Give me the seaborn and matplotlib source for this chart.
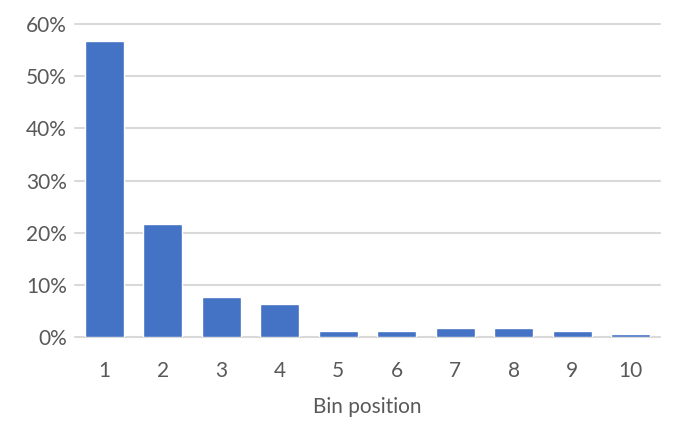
import matplotlib
matplotlib.use("Agg")
import matplotlib.pyplot as plt
import seaborn as sns
import pandas as pd
from matplotlib.ticker import FuncFormatter

categories = ["1", "2", "3", "4", "5", "6", "7", "8", "9", "10"]
values = [56.7, 21.6, 7.7, 6.3, 1.1, 1.1, 1.7, 1.7, 1.1, 0.5]
yticks = [0, 10, 20, 30, 40, 50, 60]
xlabel = "Bin position"

df = pd.DataFrame({"bin": categories, "pct": values})

sns.set_theme(style="white")
plt.rcParams["font.family"] = ["Lato", "DejaVu Sans"]

fig = plt.figure(figsize=(6.83, 4.40), dpi=100)
ax = fig.add_axes([0.1098, 0.234, 0.8565, 0.711])

sns.barplot(data=df, x="bin", y="pct", color="#4472C4", saturation=1,
            width=0.667, ax=ax, zorder=3)

ax.set_ylim(0, 60)
ax.set_yticks(yticks)
ax.yaxis.set_major_formatter(FuncFormatter(lambda v, p: f"{int(v)}%"))
ax.set_xlim(-0.5, len(categories) - 0.5)
for y in yticks:
    ax.axhline(y, color="#D9D9D9", lw=1.5, zorder=1, clip_on=False)

for s in ax.spines.values():
    s.set_visible(False)
ax.tick_params(axis="both", length=0, colors="#595959", labelsize=15)
ax.tick_params(axis="y", pad=6)
ax.tick_params(axis="x", pad=17)
ax.set_ylabel("")
ax.set_xlabel(xlabel, color="#595959", fontsize=15, labelpad=12)

fig.savefig("out.png", dpi=100, facecolor="white")
